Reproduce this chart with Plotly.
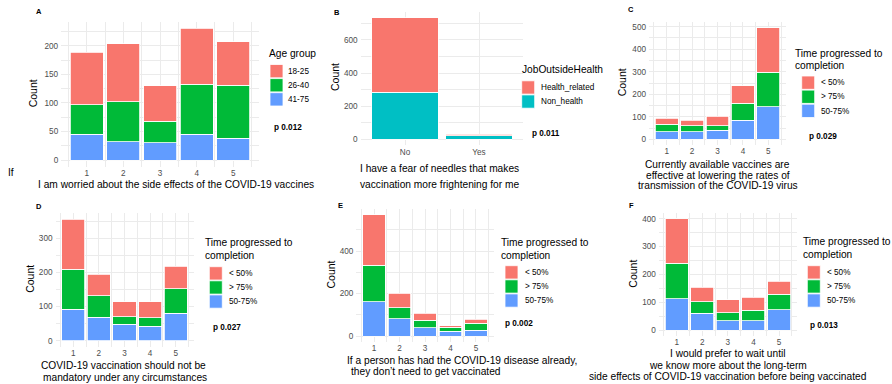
import plotly.graph_objects as go

W, H = 892, 384
FONT = "Liberation Sans, Arial, sans-serif"

# ---------------- data ----------------
likert = [1, 2, 3, 4, 5]

age_groups = ["18-25", "26-40", "41-75"]
A_18_25 = [92, 102, 62, 98, 76]
A_26_40 = [52, 70, 38, 88, 93]
A_41_75 = [45, 32, 30, 45, 38]

B_cats = ["No", "Yes"]
job_groups = ["Health_related", "Non_health"]
B_health = [450, 10]
B_non = [284, 22]

time_groups = ["< 50%", "> 75%", "50-75%"]
C_lt50 = [26, 23, 41, 78, 199]
C_gt75 = [33, 27, 21, 76, 152]
C_mid = [34, 34, 40, 84, 145]

D_lt50 = [146, 63, 43, 46, 66]
D_gt75 = [118, 63, 23, 26, 71]
D_mid = [92, 69, 48, 42, 81]

E_lt50 = [238, 68, 33, 8, 18]
E_gt75 = [171, 51, 35, 19, 32]
E_mid = [162, 82, 39, 22, 28]

F_lt50 = [159, 51, 46, 46, 47]
F_gt75 = [127, 41, 28, 37, 57]
F_mid = [113, 61, 34, 34, 72]

p_values = ["p 0.012", "p 0.011", "p 0.029", "p 0.027", "p 0.002", "p 0.013"]
panel_letters = ["A", "B", "C", "D", "E", "F"]

RED, GREEN, BLUE, CYAN = "#F8766D", "#00BA38", "#619CFF", "#00BFC4"

# ---------------- panel layout (pixels) ----------------
panels = [
    dict(box=(61.2, 21.7, 258.8, 166.6), x=likert,
         series=[(age_groups[2], A_41_75, BLUE), (age_groups[1], A_26_40, GREEN), (age_groups[0], A_18_25, RED)],
         dtick=50, legend_title=["Age group"], title_x=268, title_y=[53],
         key_x=270, key_y=64.5, label_x=286.5, p=(273.3, 127.7), letter=(35, 11.7),
         count=(33.3, 93),
         xtitle=[("I am worried about the side effects of the COVID-19 vaccines", 175.5, 184.3, "center")]),
    dict(box=(360.6, 11.7, 523.4, 145.4), x=B_cats,
         series=[(job_groups[1], B_non, CYAN), (job_groups[0], B_health, RED)],
         dtick=200, legend_title=["JobOutsideHealth"], title_x=520.7, title_y=[70],
         key_x=521.7, key_y=80.8, label_x=540, p=(531, 133.7), letter=(333.3, 12.7),
         count=(335, 77),
         xtitle=[("I have a fear of needles that makes", 439, 168.3, "center"),
                 ("vaccination more frightening for me", 439, 184.3, "center")]),
    dict(box=(649, 22, 786, 144.9), x=likert,
         series=[(time_groups[2], C_mid, BLUE), (time_groups[1], C_gt75, GREEN), (time_groups[0], C_lt50, RED)],
         dtick=100, legend_title=["Time progressed to", "completion"], title_x=794, title_y=[53.3, 65.7],
         key_x=801.7, key_y=76, label_x=820, p=(808.3, 136.7), letter=(627.3, 10),
         count=(622.3, 82),
         xtitle=[("Currently available vaccines are", 717.5, 164.3, "center"),
                 ("effective at lowering the rates of", 717.5, 175.7, "center"),
                 ("transmission of the COVID-19 virus", 717.5, 185.7, "center")]),
    dict(box=(55.5, 213.2, 193.5, 346.8), x=likert,
         series=[(time_groups[2], D_mid, BLUE), (time_groups[1], D_gt75, GREEN), (time_groups[0], D_lt50, RED)],
         dtick=100, legend_title=["Time progressed to", "completion"], title_x=204, title_y=[242.7, 255],
         key_x=209.3, key_y=266.7, label_x=227.7, p=(211.7, 327.7), letter=(35, 206),
         count=(29.3, 278.5),
         xtitle=[("COVID-19 vaccination should not be", 123.3, 365.7, "center"),
                 ("mandatory under any circumstances", 125.5, 377.3, "center")]),
    dict(box=(356.3, 208.6, 493.7, 342.1), x=likert,
         series=[(time_groups[2], E_mid, BLUE), (time_groups[1], E_gt75, GREEN), (time_groups[0], E_lt50, RED)],
         dtick=200, legend_title=["Time progressed to", "completion"], title_x=500, title_y=[242.7, 255],
         key_x=505, key_y=265.7, label_x=524, p=(504, 323.3), letter=(337.3, 205),
         count=(330, 274.5),
         xtitle=[("If a person has had the COVID-19 disease already,", 345.7, 360.7, "left"),
                 ("they don\u2019t need to get vaccinated", 350, 371.7, "left")]),
    dict(box=(658.9, 213.4, 796.8, 335.6), x=likert,
         series=[(time_groups[2], F_mid, BLUE), (time_groups[1], F_gt75, GREEN), (time_groups[0], F_lt50, RED)],
         dtick=100, legend_title=["Time progressed to", "completion"], title_x=801.7, title_y=[241.7, 254],
         key_x=807.3, key_y=265.7, label_x=826, p=(809.3, 325), letter=(628.3, 205),
         count=(632.7, 274),
         xtitle=[("I would prefer to wait until", 727.5, 353.3, "center"),
                 ("we know more about the long-term", 727.5, 365.7, "center"),
                 ("side effects of COVID-19 vaccination before being vaccinated", 727.5, 376.7, "center")]),
]

fig = go.Figure()
annotations = []
shapes = []


def px(x):
    return x / W


def py(y):
    return 1 - y / H


def ann(text, x, y, size, bold=False, xanchor="left", color="black", angle=0):
    return dict(text=f"<b>{text}</b>" if bold else text, x=px(x), y=py(y), xref="paper", yref="paper",
                xanchor=xanchor, yanchor="middle", showarrow=False, borderpad=0,
                font=dict(family=FONT, size=size, color=color), textangle=angle)


TICKFONT = dict(family=FONT, size=8.2, color="#4D4D4D")
GRID = "#EBEBEB"

for i, pnl in enumerate(panels, start=1):
    sfx = "" if i == 1 else str(i)
    x0, y0, x1, y1 = pnl["box"]
    for name, vals, col in pnl["series"]:
        fig.add_trace(go.Bar(x=pnl["x"], y=vals, name=name, marker=dict(color=col, line=dict(color="white", width=0.8)),
                             xaxis="x" + sfx, yaxis="y" + sfx, showlegend=False))
    totals = [sum(v) for v in zip(*[s[1] for s in pnl["series"]])]
    ymax = max(totals)
    yaxis = dict(domain=[py(y1), py(y0)], range=[-0.05 * ymax, 1.05 * ymax], anchor="x" + sfx,
                 dtick=pnl["dtick"], tick0=0, showgrid=True, gridcolor=GRID, gridwidth=1,
                 minor=dict(dtick=pnl["dtick"] / 2, tick0=0, showgrid=True, gridcolor=GRID, gridwidth=0.6),
                 zeroline=False, showline=False, ticks="", tickfont=TICKFONT, ticklabelstandoff=2)
    if isinstance(pnl["x"][0], str):
        xaxis = dict(domain=[px(x0), px(x1)], anchor="y" + sfx, type="category", range=[-0.6, len(pnl["x"]) - 0.4],
                     showgrid=True, gridcolor=GRID, gridwidth=1, zeroline=False, showline=False, ticks="",
                     tickfont=TICKFONT)
    else:
        xaxis = dict(domain=[px(x0), px(x1)], anchor="y" + sfx, range=[0.305, 5.695], tickvals=pnl["x"],
                     showgrid=True, gridcolor=GRID, gridwidth=1,
                     minor=dict(dtick=0.5, tick0=0.5, showgrid=True, gridcolor=GRID, gridwidth=0.6),
                     zeroline=False, showline=False, ticks="", tickfont=TICKFONT)
    fig.update_layout(**{"xaxis" + sfx: xaxis, "yaxis" + sfx: yaxis})

    # axis titles
    annotations.append(ann("Count", pnl["count"][0], pnl["count"][1], 10.5, xanchor="center", angle=-90))
    for text, tx, ty, al in pnl["xtitle"]:
        annotations.append(ann(text, tx, ty, 10.2, xanchor="center" if al == "center" else "left"))
    # panel letter and p-value
    annotations.append(ann(panel_letters[i - 1], pnl["letter"][0], pnl["letter"][1], 7.5, bold=True))
    annotations.append(ann(p_values[i - 1], pnl["p"][0], pnl["p"][1], 8.2, bold=True))
    # legend
    for t, ty in zip(pnl["legend_title"], pnl["title_y"]):
        annotations.append(ann(t, pnl["title_x"], ty, 10.2))
    legend_items = list(reversed(pnl["series"]))
    for k, (name, vals, col) in enumerate(legend_items):
        ky = pnl["key_y"] + 14.1 * k
        shapes.append(dict(type="rect", xref="paper", yref="paper", x0=px(pnl["key_x"]), x1=px(pnl["key_x"] + 13),
                           y0=py(ky + 13.3), y1=py(ky), fillcolor=col, line=dict(color="white", width=0.8)))
        annotations.append(ann(name, pnl["label_x"], ky + 6.8, 8.2))

# stray label from the source figure
annotations.append(ann("If", 7.3, 172.7, 10.2))

fig.update_layout(width=W, height=H, margin=dict(l=0, r=0, t=0, b=0), paper_bgcolor="white",
                  plot_bgcolor="white", barmode="stack", bargap=0.1, showlegend=False,
                  annotations=annotations, shapes=shapes, font=dict(family=FONT))

fig.write_html("out.html")
